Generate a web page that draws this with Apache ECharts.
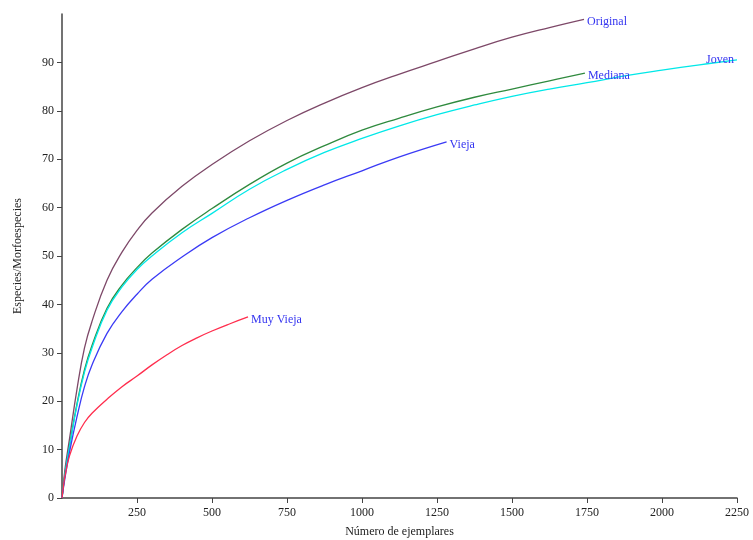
<!DOCTYPE html>
<html>
<head>
<meta charset="utf-8">
<title>Curvas de rarefacción</title>
<script src="https://cdn.jsdelivr.net/npm/echarts@6/dist/echarts.min.js"></script>
<style>
  html, body { margin: 0; padding: 0; background: #fff; }
  #chart { width: 753px; height: 540px; }
</style>
</head>
<body>
<div id="chart"></div>
<script>
// Rarefaction curves: species accumulated vs. number of specimens, by forest age class
const seriesNames = ['Original', 'Mediana', 'Joven', 'Vieja', 'Muy Vieja'];

// [specimens, species]
const original = [[0,0],[10,6],[25,12.2],[50,22.5],[75,31],[100,36.5],[150,45],[200,50.8],[250,55.3],[300,58.9],[400,64.4],[500,68.9],[625,73.8],[750,78],[875,81.6],[1000,84.8],[1125,87.6],[1250,90.2],[1375,92.8],[1500,95.2],[1625,97.2],[1740,98.9]];
const mediana  = [[0,0],[10,5],[25,10.8],[50,19.5],[75,26.5],[100,31.5],[150,39.2],[200,44],[250,47.6],[300,50.6],[400,55.5],[500,59.8],[625,64.8],[750,69.2],[875,72.8],[1000,76],[1125,78.5],[1250,80.8],[1375,82.8],[1500,84.5],[1625,86.2],[1743,87.8]];
const joven    = [[0,0],[10,5],[25,10.6],[50,19.2],[75,26],[100,31],[150,38.8],[200,43.6],[250,47.2],[300,50],[400,54.8],[500,58.8],[625,63.8],[750,67.9],[875,71.4],[1000,74.3],[1125,76.9],[1250,79.2],[1375,81.2],[1500,83],[1625,84.5],[1750,85.8],[1875,87.2],[2000,88.4],[2125,89.5],[2250,90.5]];
const vieja    = [[0,0],[10,4.2],[25,9.5],[50,16.8],[75,23],[100,27.5],[150,34],[200,38.5],[250,42.1],[300,45.2],[400,49.8],[500,53.8],[625,57.9],[750,61.5],[875,64.7],[1000,67.6],[1125,70.5],[1282,73.6]];
const muyVieja = [[0,0],[5,2.5],[10,4.5],[25,8.7],[50,12.8],[75,15.6],[100,17.5],[150,20.4],[200,23],[250,25.2],[300,27.5],[350,29.6],[400,31.5],[450,33.1],[500,34.5],[560,36],[620,37.4]];

const xTickValues = [250, 500, 750, 1000, 1250, 1500, 1750, 2000, 2250];
const yTickValues = [0, 10, 20, 30, 40, 50, 60, 70, 80, 90];

const curves = [original, mediana, joven, vieja, muyVieja];
const colors = ['#7d4868', '#2f8a3e', '#00e8e8', '#3a3af5', '#ff2d4d'];

const font = '"Liberation Serif", "DejaVu Serif", serif';
const labelColor = '#3535f0';

const chart = echarts.init(document.getElementById('chart'), null, { renderer: 'canvas' });

const series = curves.map((data, i) => {
  const name = seriesNames[i];
  const isJoven = name === 'Joven';
  return {
    name: name,
    type: 'line',
    data: data,
    smooth: 0.45,
    showSymbol: false,
    clip: false,
    lineStyle: { color: colors[i], width: 1.3 },
    emphasis: { disabled: true },
    endLabel: {
      show: true,
      formatter: name,
      color: labelColor,
      fontFamily: font,
      fontSize: 12,
      distance: 3,
      offset: isJoven ? [-34, 0] : [0, 3]
    }
  };
});

chart.setOption({
  backgroundColor: '#ffffff',
  animation: false,
  grid: { left: 62, right: 16, top: 14, bottom: 42, containLabel: false, outerBoundsMode: 'none' },
  xAxis: {
    type: 'value',
    min: 0,
    max: 2250,
    interval: 250,
    name: 'Número de ejemplares',
    nameLocation: 'middle',
    nameGap: 28,
    nameTextStyle: { fontFamily: font, fontSize: 12, color: '#222' },
    axisLine: { show: true, lineStyle: { color: '#444', width: 1.5 } },
    axisTick: { show: true, length: 5, lineStyle: { color: '#444' }, customValues: xTickValues },
    axisLabel: {
      fontFamily: font, fontSize: 12, color: '#222', margin: 9,
      customValues: xTickValues,
      formatter: v => String(v)
    },
    splitLine: { show: false }
  },
  yAxis: {
    type: 'value',
    min: 0,
    max: 100,
    interval: 10,
    name: 'Especies/Morfoespecies',
    nameLocation: 'middle',
    nameGap: 38,
    nameTextStyle: { fontFamily: font, fontSize: 12, color: '#222' },
    axisLine: { show: true, lineStyle: { color: '#444', width: 1.5 } },
    axisTick: { show: true, length: 5, lineStyle: { color: '#444' }, customValues: yTickValues },
    axisLabel: {
      fontFamily: font, fontSize: 12, color: '#222', margin: 8,
      customValues: yTickValues,
      formatter: v => String(v)
    },
    splitLine: { show: false }
  },
  series: series
});
</script>
</body>
</html>
